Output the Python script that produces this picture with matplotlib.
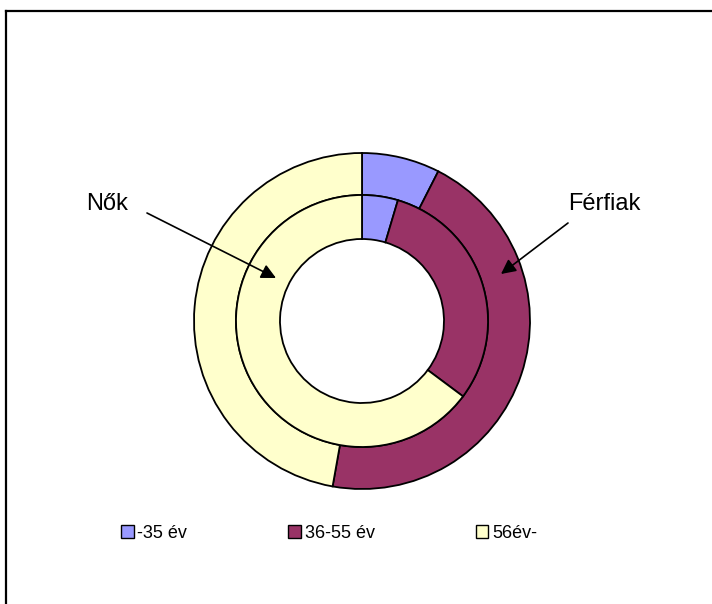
import matplotlib
matplotlib.use("Agg")
import matplotlib.pyplot as plt
from matplotlib.patches import Patch, FancyArrowPatch
from matplotlib.lines import Line2D

plt.rcParams['font.family'] = ['Liberation Sans', 'DejaVu Sans']

categories = ['-35 év', '36-55 év', '56év-']
ferfiak = [7.5, 45.3, 47.2]   # outer ring
nok = [4.6, 30.6, 64.8]       # inner ring
colors = ['#9999FF', '#993366', '#FFFFCC']
ring_labels = ['Nők', 'Férfiak']

W, H = 712, 604
fig = plt.figure(figsize=(W / 100, H / 100), dpi=100)
fig.patch.set_facecolor('white')

cx, cy, R = 362, 321, 168
ax = fig.add_axes([(cx - R) / W, (H - cy - R) / H, 2 * R / W, 2 * R / H])
ax.axis('off')

wp = dict(edgecolor='black', linewidth=1.3)
ax.pie(ferfiak, radius=1.0, colors=colors, startangle=90, counterclock=False,
       wedgeprops=dict(width=42 / 168, **wp))
ax.pie(nok, radius=126 / 168, colors=colors, startangle=90, counterclock=False,
       wedgeprops=dict(width=44 / 168, **wp))
ax.set_xlim(-1.0, 1.0)
ax.set_ylim(-1.0, 1.0)
ax.set_aspect('equal')

arrow = dict(arrowstyle='-|>', color='black', lw=1.2, mutation_scale=22,
             shrinkA=0, shrinkB=0)
fig.text(107 / W, 1 - 204 / H, ring_labels[0], fontsize=17, ha='center', va='center')
fig.text(604 / W, 1 - 204 / H, ring_labels[1], fontsize=17, ha='center', va='center')
fig.add_artist(FancyArrowPatch(
    (147 / W, 1 - 213 / H), (276 / W, 1 - 278 / H), transform=fig.transFigure, **arrow))
fig.add_artist(FancyArrowPatch(
    (568 / W, 1 - 223 / H), (501 / W, 1 - 274 / H), transform=fig.transFigure, **arrow))

handles = [Patch(facecolor=c, edgecolor='black', linewidth=1.0) for c in colors]
fig.legend(handles, categories, loc='center', bbox_to_anchor=(329 / W, 1 - 533 / H),
           ncol=3, frameon=False, fontsize=13, handlelength=0.7, handleheight=0.7,
           handletextpad=0.2, columnspacing=5.6)

fig.add_artist(Line2D([6 / W, 1], [1 - 11 / H, 1 - 11 / H], transform=fig.transFigure,
                      color='black', lw=1.6))
fig.add_artist(Line2D([6 / W, 6 / W], [1 - 11 / H, 0], transform=fig.transFigure,
                      color='black', lw=1.6))

fig.savefig('out.png', dpi=100)
